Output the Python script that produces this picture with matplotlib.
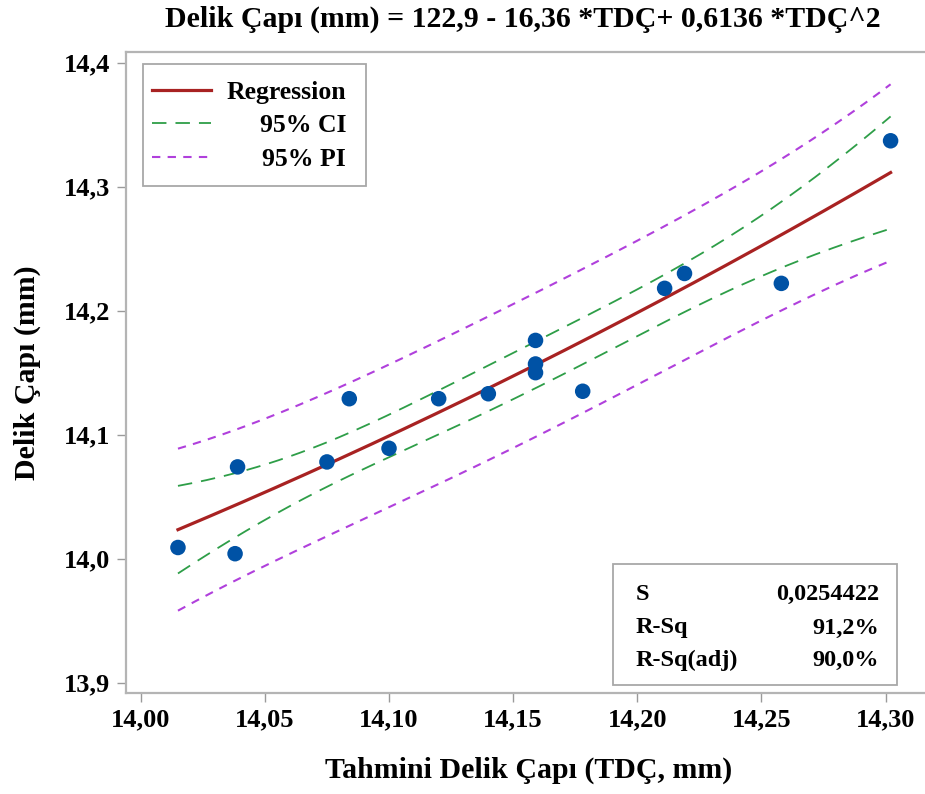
import numpy as np
import matplotlib
matplotlib.use('Agg')
import matplotlib.pyplot as plt
from matplotlib.lines import Line2D
from matplotlib.patches import Rectangle

# observed points (TDC vs measured hole diameter)
tdc = [14.015, 14.039, 14.038, 14.075, 14.084, 14.100, 14.120, 14.140,
       14.159, 14.159, 14.159, 14.178, 14.211, 14.219, 14.258, 14.302]
delik = [14.009, 14.074, 14.004, 14.078, 14.129, 14.089, 14.129, 14.133,
         14.176, 14.157, 14.150, 14.135, 14.218, 14.230, 14.222, 14.337]

xticks = [14.00, 14.05, 14.10, 14.15, 14.20, 14.25, 14.30]
xticklabels = ['14,00', '14,05', '14,10', '14,15', '14,20', '14,25', '14,30']
yticks = [13.9, 14.0, 14.1, 14.2, 14.3, 14.4]
yticklabels = ['13,9', '14,0', '14,1', '14,2', '14,3', '14,4']

stat_names = ['S', 'R-Sq', 'R-Sq(adj)']
stat_values = ['0,0254422', '91,2%', '90,0%']
legend_labels = ['Regression', '95% CI', '95% PI']

S_REG = 0.0254422   # reported standard error of regression
T_CRIT = 2.160      # t(0.975, df=13)

plt.rcParams['font.family'] = ['Liberation Serif', 'DejaVu Serif']
plt.rcParams['font.weight'] = 'bold'

# quadratic fit with confidence / prediction bands
x = np.array(tdc)
y = np.array(delik)
xm = x.mean()
A = np.vander(x - xm, 3)
beta, *_ = np.linalg.lstsq(A, y, rcond=None)
s2 = S_REG ** 2
cov = s2 * np.linalg.inv(A.T @ A)
grid = np.linspace(x.min(), x.max(), 200)
G = np.vander(grid - xm, 3)
yhat = G @ beta
se_fit = np.sqrt(np.sum((G @ cov) * G, axis=1))
ci = T_CRIT * se_fit
pi = T_CRIT * np.sqrt(s2 + se_fit ** 2)

W, H = 925, 794
fig = plt.figure(figsize=(W / 100, H / 100), dpi=100)
ax = fig.add_axes([126 / W, 1 - 692.7 / H, (932 - 126) / W, (692.7 - 52) / H])

red = '#A82222'
green = '#2E9E48'
purple = '#B040DC'
blue = '#0052A5'

ax.plot(grid, yhat, color=red, lw=2.3, zorder=3)
for sgn in (1, -1):
    ax.plot(grid, yhat + sgn * ci, color=green, lw=1.3, dashes=(8, 5), zorder=2)
    ax.plot(grid, yhat + sgn * pi, color=purple, lw=1.5, dashes=(4, 3.5), zorder=2)
ax.scatter(x, y, s=125, color=blue, edgecolors='none', zorder=4)

ax.set_xlim(13.99407, 14.31868)
ax.set_ylim(13.8919, 14.4086)
ax.set_xticks(xticks)
ax.set_xticklabels(xticklabels)
ax.set_yticks(yticks)
ax.set_yticklabels(yticklabels)
ax.tick_params(axis='both', direction='out', length=6.5, width=1.0, color='#9a9a9a',
               labelsize=19, pad=5)
for t in ax.get_xticklabels() + ax.get_yticklabels():
    t.set_fontweight('bold')
for sp in ax.spines.values():
    sp.set_color('#b4b4b4')
    sp.set_linewidth(1.6)

ax.set_xlabel('Tahmini Delik Çapı (TDÇ, mm)', fontsize=21.5, fontweight='bold', labelpad=18)
ax.set_ylabel('Delik Çapı (mm)', fontsize=21.5, fontweight='bold', labelpad=16)
fig.text(523 / W, 1 - 19 / H, 'Delik Çapı (mm) = 122,9 - 16,36 *TDÇ+ 0,6136 *TDÇ^2',
         ha='center', va='center', fontsize=21.5, fontweight='bold')

# legend box (drawn in figure pixel space)
def fx(px):
    return px / W

def fy(py):
    return 1 - py / H

fig.patches.append(Rectangle((fx(142.7), fy(186)), fx(366) - fx(142.7), fy(64) - fy(186),
                             transform=fig.transFigure, facecolor='white',
                             edgecolor='#a8a8a8', lw=1.3, zorder=5))
leg_styles = [dict(color=red, lw=2.3), dict(color=green, lw=1.3, dashes=(8, 5)),
              dict(color=purple, lw=1.5, dashes=(4, 3.5))]
leg_y = [90, 123, 157]
for lab, st, py in zip(legend_labels, leg_styles, leg_y):
    fig.lines.append(Line2D([fx(152), fx(211)], [fy(py), fy(py)], transform=fig.transFigure,
                            zorder=6, **st))
    fig.text(fx(346), fy(py + 2), lab, ha='right', va='center', fontsize=18.5,
             fontweight='bold', zorder=6)

# stats box
fig.patches.append(Rectangle((fx(612.7), fy(685)), fx(896.7) - fx(612.7), fy(564) - fy(685),
                             transform=fig.transFigure, facecolor='white',
                             edgecolor='#a8a8a8', lw=1.3, zorder=5))
for name, val, py in zip(stat_names, stat_values, [594, 628, 660]):
    fig.text(fx(636), fy(py), name, ha='left', va='center', fontsize=17.5,
             fontweight='bold', zorder=6)
    fig.text(fx(879), fy(py), val, ha='right', va='center', fontsize=17.5,
             fontweight='bold', zorder=6)

fig.savefig('out.png', dpi=100)
